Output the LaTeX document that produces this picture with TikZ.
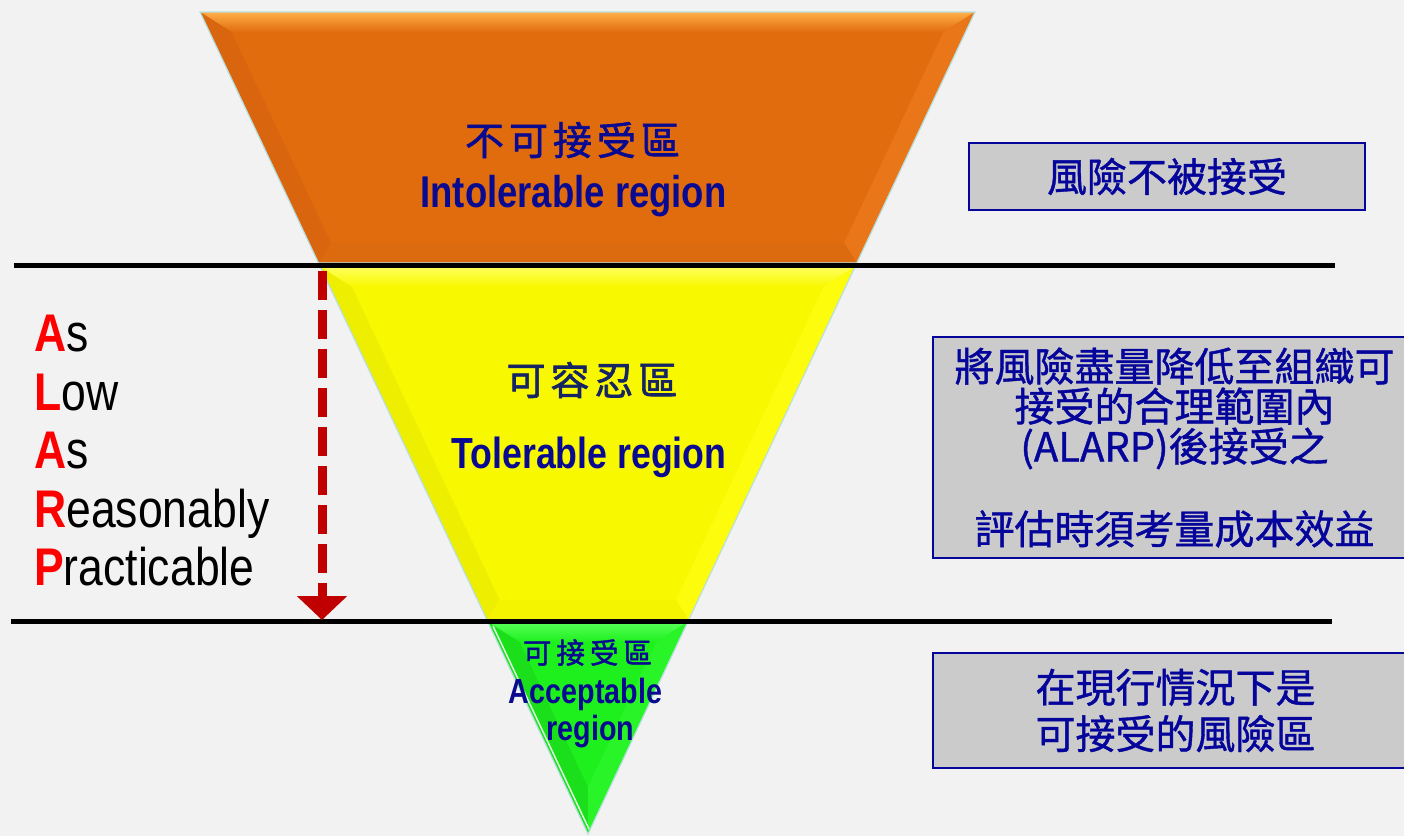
\documentclass[tikz,border=0pt]{standalone}
\usepackage{fontspec}
\setmainfont{Liberation Sans}
\newfontfamily\latn[FakeStretch=0.82]{Liberation Sans}
\newfontfamily\latw[FakeStretch=0.84]{Liberation Sans}
\newfontfamily\cjkb[FakeBold=1.0]{Noto Sans CJK TC}
\newfontfamily\cjkt[FakeBold=1.6]{Noto Sans CJK TC}
\usetikzlibrary{arrows.meta}
\definecolor{bg}{HTML}{F2F2F2}
\definecolor{orgBase}{HTML}{E06C0E}
\definecolor{orgHi}{HTML}{FFAE48}
\definecolor{orgL}{HTML}{D9660E}
\definecolor{orgR}{HTML}{E97618}
\definecolor{orgB}{HTML}{DC6A0F}
\definecolor{yelBase}{HTML}{F8F800}
\definecolor{yelHi}{HTML}{FFFF5A}
\definecolor{yelL}{HTML}{EEEE00}
\definecolor{yelR}{HTML}{FCFC0C}
\definecolor{yelB}{HTML}{F4F400}
\definecolor{grnBase}{HTML}{1EF01E}
\definecolor{grnHi}{HTML}{58FF58}
\definecolor{grnL}{HTML}{1ADF1A}
\definecolor{grnR}{HTML}{28F428}
\definecolor{edgec}{HTML}{B8E0E0}
\definecolor{tblue}{RGB}{10,10,145}
\definecolor{tnavy}{RGB}{20,36,100}
\definecolor{bblue}{RGB}{5,5,155}
\definecolor{boxgray}{HTML}{CBCBCB}
\definecolor{arrowred}{HTML}{C00000}
\definecolor{alred}{HTML}{FF0000}
\newcommand\gp{\kern5pt}
\newcommand\gq{\kern5pt}
\newcommand\ini[1]{{\color{alred}\bfseries #1}}
\begin{document}
\begin{tikzpicture}[x=1pt,y=-1pt,
  sepline/.style={line width=5pt, black},
  edge/.style={draw=edgec, line width=1.2pt},
  lt/.style={font=\latn\bfseries, text=tblue, inner sep=0pt, anchor=base},
  ct/.style={font=\cjkt, text=tblue, inner sep=0pt},
  al/.style={font=\latw\fontsize{53}{60}\selectfont, text=black, inner sep=0pt, anchor=base west},
  rbox/.style={draw=bblue, line width=2pt, fill=boxgray, text=bblue, align=center, inner sep=0pt}]
\useasboundingbox (0,0) rectangle (1404,836);
\clip (0,0) rectangle (1404,836);
\fill[bg] (0,0) rectangle (1404,836);

% ---- orange (intolerable)
\fill[orgBase] (200,12) -- (975,12) -- (856.8,263) -- (318.5,263) -- cycle;
\shade[top color=orgHi, bottom color=orgBase] (200,12) -- (975,12) -- (943.5,32) -- (231.5,32) -- cycle;
\fill[orgL] (200,12) -- (231.5,32) -- (331.1,243) -- (318.5,263) -- cycle;
\fill[orgR] (975,12) -- (856.8,263) -- (844.1,243) -- (943.5,32) -- cycle;
\fill[orgB] (318.5,263) -- (856.8,263) -- (844.1,243) -- (331.1,243) -- cycle;
\draw[edge] (200,12) -- (975,12) -- (856.8,263) -- (318.5,263) -- cycle;

% ---- yellow (tolerable)
\fill[yelBase] (320.4,267) -- (854.9,267) -- (688.6,620) -- (487.0,620) -- cycle;
\shade[top color=yelHi, bottom color=yelBase] (320.4,267) -- (854.9,267) -- (823.4,287) -- (351.9,287) -- cycle;
\fill[yelL] (320.4,267) -- (351.9,287) -- (499.6,600) -- (487.0,620) -- cycle;
\fill[yelR] (854.9,267) -- (688.6,620) -- (676.0,600) -- (823.4,287) -- cycle;
\fill[yelB] (487.0,620) -- (688.6,620) -- (676.0,600) -- (499.6,600) -- cycle;
\draw[edge] (320.4,267) -- (854.9,267) -- (688.6,620) -- (487.0,620) -- cycle;

% ---- green (acceptable)
\fill[grnBase] (487.9,622) -- (687.7,622) -- (588,834) -- cycle;
\shade[top color=grnHi, bottom color=grnBase] (487.9,622) -- (687.7,622) -- (656.2,642) -- (519.5,642) -- cycle;
\fill[grnL] (487.9,622) -- (519.5,642) -- (587.9,787) -- (588,834) -- cycle;
\fill[grnR] (687.7,622) -- (588,834) -- (587.9,787) -- (656.2,642) -- cycle;
\draw[edge] (487.9,622) -- (687.7,622) -- (588,834) -- cycle;
\draw[white!85!grnBase, line width=1.5pt] (493,626) -- (589,829);

% ---- separator lines
\coordinate (l1a) at (14,265);
\coordinate (l1b) at (1335,265);
\coordinate (l2a) at (11,621);
\coordinate (l2b) at (1332,621);
\draw[sepline] (l1a) -- (l1b);
\draw[sepline] (l2a) -- (l2b);

% ---- ALARP arrow
\coordinate (aS) at (322,271);
\coordinate (aE) at (322,620);
\draw[arrowred, line width=9pt, dash pattern=on 29pt off 10pt,
  -{Triangle[length=24pt,width=49pt]}] (aS) -- (aE);

% ---- triangle labels
\node[ct] (zh1) at (572.5,140) {\fontsize{39}{40}\selectfont 不\gp 可\gp 接\gp 受\gp 區};
\node[lt] (en1) at (573.5,207) {\fontsize{44.5}{50}\selectfont Intolerable region};
\node[ct, text=tnavy] (zh2) at (592,380) {\fontsize{39}{40}\selectfont 可\gp 容\gp 忍\gp 區};
\node[lt] (en2) at (589,468) {\fontsize{43.5}{50}\selectfont Tolerable region};
\node[ct] (zh3) at (587.5,652.5) {\fontsize{28.5}{30}\selectfont 可\gq 接\gq 受\gq 區};
\node[lt] (en3a) at (585.5,703) {\fontsize{35}{40}\selectfont Acceptable};
\node[lt] (en3b) at (590.5,740) {\fontsize{35}{40}\selectfont region};

% ---- ALARP words
\node[al] (w1) at (34,351) {\ini{A}s};
\node[al] (w2) at (34,410) {\ini{L}ow};
\node[al] (w3) at (34,468) {\ini{A}s};
\node[al] (w4) at (34,527) {\ini{R}easonably};
\node[al] (w5) at (34,585) {\ini{P}racticable};

% ---- right boxes
\node[rbox, minimum width=396pt, minimum height=67pt,
  font=\cjkb\fontsize{40}{40}\selectfont] (b1) at (1167,176.5) {風險不被接受};
\node[rbox, minimum width=483pt, minimum height=221pt,
  font=\cjkb\fontsize{40}{40}\selectfont] (b2) at (1174.5,447.5)
  {將風險盡量降低至組織可\\接受的合理範圍內\\(ALARP)後接受之\\[40pt]評估時須考量成本效益};
\node[rbox, minimum width=485pt, minimum height=115pt,
  font=\cjkb\fontsize{40}{46.5}\selectfont] (b3) at (1175.5,710.5)
  {在現行情況下是\\可接受的風險區};
\end{tikzpicture}
\end{document}
